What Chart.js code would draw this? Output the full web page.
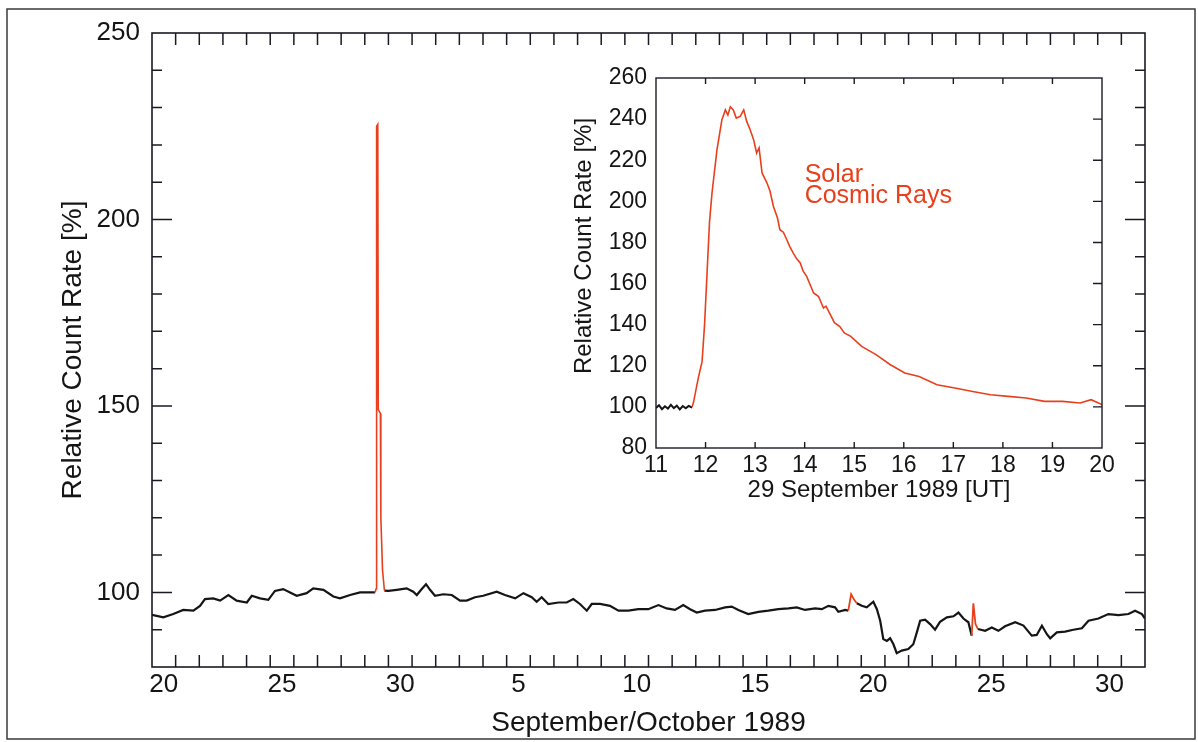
<!DOCTYPE html>
<html>
<head>
<meta charset="utf-8">
<script src="https://cdn.jsdelivr.net/npm/chart.js@4.4.0/dist/chart.umd.min.js"></script>
<style>
  html, body { margin: 0; padding: 0; background: #ffffff; }
  #wrap { position: relative; width: 1198px; height: 742px; overflow: hidden; }
  #mainChart { position: absolute; left: 0; top: 0; }
  #insetChart { position: absolute; left: 540px; top: 50px; }
</style>
</head>
<body>
<div id="wrap">
  <canvas id="mainChart" width="1198" height="742"></canvas>
  <canvas id="insetChart" width="600" height="480"></canvas>
</div>
<script>
// Main panel: x = day number (Sep 20 = 20 ... Oct 30 = 60), labels at noon
const mainTickDays = [20, 25, 30, 35, 40, 45, 50, 55, 60];
const mainTickLabels = ['20', '25', '30', '5', '10', '15', '20', '25', '30'];
const mainRateTicks = [100, 150, 200, 250];

// Neutron monitor relative count rate (black), null = gap under red events
const mainDays = [19.5, 19.98, 20.40, 20.82, 21.25, 21.53, 21.74, 22.09, 22.38, 22.73,
  23.08, 23.51, 23.72, 24.07, 24.42, 24.70, 25.05, 25.34, 25.62, 26.04,
  26.32, 26.75, 27.17, 27.45, 27.88, 28.30, 28.72, 28.93, 29.1, 29.33,
  29.50, 29.85, 30.27, 30.55, 30.70, 30.91, 31.09, 31.26, 31.47, 31.82,
  32.18, 32.53, 32.81, 33.16, 33.51, 34.08, 34.43, 34.86, 35.21, 35.56,
  35.77, 35.98, 36.26, 36.69, 37.04, 37.32, 37.60, 37.89, 38.10, 38.45,
  38.87, 39.23, 39.65, 40.07, 40.49, 40.92, 41.27, 41.62, 41.97, 42.26,
  42.54, 42.89, 43.32, 43.74, 44.02, 44.30, 44.72, 45.15, 45.57, 45.99,
  46.42, 46.77, 47.12, 47.55, 47.83, 48.11, 48.39, 48.53, 48.82, 48.95,
  49.1, 49.31, 49.52, 49.73, 50.01, 50.16, 50.30, 50.43, 50.58, 50.72,
  50.86, 51.00, 51.21, 51.49, 51.70, 51.85, 51.99, 52.20, 52.41, 52.62,
  52.83, 53.12, 53.40, 53.61, 53.82, 54.03, 54.17, 54.3, 54.43, 54.74,
  55.02, 55.30, 55.58, 56.01, 56.36, 56.71, 56.92, 57.14, 57.35, 57.49,
  57.77, 58.12, 58.47, 58.83, 59.11, 59.53, 59.95, 60.38, 60.80, 61.08,
  61.37, 61.5];
const mainRates = [94.0, 93.3, 94.2, 95.3, 95.1, 96.4, 98.2, 98.4, 97.8, 99.3,
  97.8, 97.3, 99.1, 98.4, 98.0, 100.4, 100.9, 100.0, 99.1, 99.8,
  101.1, 100.7, 98.9, 98.4, 99.3, 100.0, 100.0, 100.0, null, 100.5,
  100.4, 100.7, 101.1, 100.2, 99.3, 100.9, 102.2, 100.7, 99.1, 99.5,
  99.3, 97.8, 97.8, 98.7, 99.1, 100.2, 99.3, 98.4, 99.8, 98.7,
  97.5, 98.7, 96.9, 97.3, 97.3, 98.2, 96.9, 95.1, 96.9, 96.9,
  96.4, 95.1, 95.1, 95.5, 95.5, 96.6, 95.7, 95.3, 96.6, 95.5,
  94.6, 95.1, 95.3, 96.0, 96.2, 95.3, 94.2, 94.8, 95.1, 95.5,
  95.7, 96.0, 95.3, 95.7, 95.5, 96.4, 96.0, 94.8, 95.3, 95.1,
  null, 97.1, 96.4, 96.0, 97.5, 95.5, 92.4, 87.5, 87.0, 87.7,
  86.1, 83.7, 84.4, 84.8, 86.1, 89.3, 92.4, 92.7, 91.5, 90.0,
  92.1, 93.3, 93.6, 94.6, 93.0, 92.0, 88.4, null, 90.2, 89.7,
  90.6, 89.7, 90.9, 92.0, 91.1, 88.4, 88.6, 91.1, 88.8, 87.7,
  89.3, 89.5, 90.0, 90.4, 92.4, 93.0, 94.2, 93.9, 94.2, 95.1,
  94.2, 93.0];

// Solar cosmic ray events (red)
const gle29SepDays = [28.93, 28.98, 29.0, 29.05, 29.07, 29.16, 29.18, 29.25, 29.33];
const gle29SepRates = [100.0, 101.0, 225.0, 225.5, 149.0, 148.0, 120.0, 106.0, 100.5];
const gle19OctDays = [48.95, 49.07, 49.2, 49.31];
const gle19OctRates = [95.1, 99.5, 98.0, 97.1];
const gle24OctDays = [54.17, 54.24, 54.33, 54.43];
const gle24OctRates = [88.4, 97.1, 91.5, 90.2];

// Inset: 29 September 1989, hours UT
const insetHourTicks = [11, 12, 13, 14, 15, 16, 17, 18, 19, 20];
const insetRateTicks = [80, 100, 120, 140, 160, 180, 200, 220, 240, 260];
const insetQuietHours = [11.0, 11.06, 11.12, 11.18, 11.24, 11.30, 11.36, 11.42, 11.48, 11.54, 11.60, 11.66, 11.73];
const insetQuietRates = [99.5, 100.8, 98.9, 100.3, 99.2, 101.0, 99.4, 100.6, 98.8, 100.4, 99.3, 100.5, 99.6];
const insetEventHours = [11.73, 11.76, 11.82, 11.86, 11.93, 11.98, 12.03, 12.08, 12.13, 12.23,
  12.33, 12.40, 12.45, 12.50, 12.56, 12.62, 12.70, 12.77, 12.83, 12.90,
  12.97, 13.03, 13.08, 13.14, 13.24, 13.30, 13.37, 13.45, 13.50, 13.57,
  13.64, 13.70, 13.77, 13.84, 13.91, 13.97, 14.04, 14.10, 14.18, 14.28,
  14.38, 14.43, 14.50, 14.60, 14.71, 14.80, 14.93, 15.15, 15.44, 15.73,
  16.02, 16.31, 16.67, 17.03, 17.39, 17.75, 18.11, 18.47, 18.84, 19.20,
  19.56, 19.78, 20.0];
const insetEventRates = [100.0, 102.6, 110.0, 114.8, 122.0, 140.0, 165.0, 190.0, 204.0, 225.0,
  239.7, 244.5, 242.0, 246.0, 244.5, 240.5, 241.3, 244.5, 238.9, 234.8,
  230.0, 223.5, 226.0, 213.8, 208.9, 205.0, 197.5, 192.0, 186.2, 185.0,
  181.3, 178.0, 174.8, 172.0, 170.0, 166.0, 163.5, 160.0, 155.4, 153.7,
  148.1, 149.0, 145.7, 141.0, 139.1, 136.0, 134.3, 129.4, 125.4, 120.5,
  116.5, 114.8, 110.8, 109.2, 107.5, 105.9, 105.1, 104.3, 102.7, 102.7,
  101.9, 103.5, 101.1];

const RED = '#e8401c';
const INK = '#151515';
const FONT = "'Liberation Sans', Arial, Helvetica, sans-serif";
Chart.defaults.font.family = FONT;
Chart.defaults.color = INK;

function pairs(xs, ys) {
    return xs.map((x, i) => ({ x: x, y: ys[i] }));
}

// Inside tick marks, plot frame and the outer figure border
const mainFrame = {
    id: 'mainFrame',
    afterDraw(chart) {
        const ctx = chart.ctx;
        const a = chart.chartArea;
        const xs = chart.scales.x;
        const ys = chart.scales.y;
        ctx.save();
        ctx.strokeStyle = '#1a1a24';
        ctx.lineWidth = 1.5;
        ctx.beginPath();
        for (let n = 20; n <= 60; n++) {
            const px = xs.getPixelForValue(n + 0.5);
            ctx.moveTo(px, a.bottom);
            ctx.lineTo(px, a.bottom - 12);
            ctx.moveTo(px, a.top);
            ctx.lineTo(px, a.top + 12);
        }
        for (let v = 90; v <= 240; v += 10) {
            const py = ys.getPixelForValue(v);
            const len = v % 50 === 0 ? 20 : 10;
            ctx.moveTo(a.left, py);
            ctx.lineTo(a.left + len, py);
            ctx.moveTo(a.right, py);
            ctx.lineTo(a.right - len, py);
        }
        ctx.stroke();
        ctx.lineWidth = 1.6;
        ctx.strokeRect(a.left, a.top, a.right - a.left, a.bottom - a.top);
        ctx.strokeStyle = '#3a3a3a';
        ctx.lineWidth = 1.5;
        ctx.strokeRect(7, 9, 1188, 730);
        ctx.restore();
    }
};

const insetFrame = {
    id: 'insetFrame',
    afterDraw(chart) {
        const ctx = chart.ctx;
        const a = chart.chartArea;
        const xs = chart.scales.x;
        const ys = chart.scales.y;
        ctx.save();
        ctx.strokeStyle = '#1a1a24';
        ctx.lineWidth = 1.4;
        ctx.beginPath();
        for (let h = 12; h <= 19; h++) {
            const px = xs.getPixelForValue(h);
            ctx.moveTo(px, a.bottom);
            ctx.lineTo(px, a.bottom - 6);
            ctx.moveTo(px, a.top);
            ctx.lineTo(px, a.top + 6);
        }
        for (let v = 100; v <= 240; v += 20) {
            const py = ys.getPixelForValue(v);
            ctx.moveTo(a.right, py);
            ctx.lineTo(a.right - 9, py);
        }
        ctx.stroke();
        ctx.strokeRect(a.left, a.top, a.right - a.left, a.bottom - a.top);

        // rotated axis title, sits a little above the axis centre
        ctx.fillStyle = INK;
        ctx.font = '24px ' + FONT;
        ctx.textAlign = 'center';
        ctx.textBaseline = 'middle';
        ctx.translate(44, 196);
        ctx.rotate(-Math.PI / 2);
        ctx.fillText('Relative Count Rate [%]', 0, 0);
        ctx.restore();

        ctx.save();
        ctx.fillStyle = RED;
        ctx.font = '25px ' + FONT;
        ctx.textAlign = 'left';
        ctx.textBaseline = 'alphabetic';
        const tx = xs.getPixelForValue(14.0);
        ctx.fillText('Solar', tx, ys.getPixelForValue(209.5));
        ctx.fillText('Cosmic Rays', tx, ys.getPixelForValue(199.3));
        ctx.restore();
    }
};

function initializeCharts() {
    new Chart(document.getElementById('mainChart').getContext('2d'), {
        type: 'line',
        data: {
            datasets: [
                { data: pairs(gle29SepDays, gle29SepRates), borderColor: RED, borderWidth: 1.6, order: 0 },
                { data: pairs(gle19OctDays, gle19OctRates), borderColor: RED, borderWidth: 1.8, order: 0 },
                { data: pairs(gle24OctDays, gle24OctRates), borderColor: RED, borderWidth: 1.8, order: 0 },
                { data: pairs(mainDays, mainRates), borderColor: INK, borderWidth: 2.2, order: 1, spanGaps: false }
            ]
        },
        options: {
            responsive: false,
            animation: false,
            devicePixelRatio: 1,
            layout: { padding: { top: 33, right: 53, left: 0, bottom: 0 } },
            elements: { point: { radius: 0 }, line: { tension: 0 } },
            plugins: { legend: { display: false }, tooltip: { enabled: false } },
            scales: {
                x: {
                    type: 'linear',
                    min: 19.5,
                    max: 61.5,
                    afterBuildTicks: s => { s.ticks = mainTickDays.map(v => ({ value: v })); },
                    afterFit: s => { s.height = 75; },
                    grid: { display: false, drawTicks: false },
                    border: { display: false },
                    ticks: {
                        autoSkip: false,
                        maxRotation: 0,
                        padding: 2,
                        color: INK,
                        font: { size: 26 },
                        callback: (value, index) => mainTickLabels[index]
                    },
                    title: {
                        display: true,
                        text: 'September/October 1989',
                        color: INK,
                        font: { size: 28 },
                        padding: { top: 0, bottom: 2 }
                    }
                },
                y: {
                    min: 80,
                    max: 250,
                    afterBuildTicks: s => { s.ticks = mainRateTicks.map(v => ({ value: v })); },
                    afterFit: s => { s.width = 152; },
                    grid: { display: false, drawTicks: false },
                    border: { display: false },
                    ticks: { padding: 12, color: INK, font: { size: 26 } },
                    title: {
                        display: true,
                        text: 'Relative Count Rate [%]',
                        color: INK,
                        font: { size: 28 },
                        padding: { top: 56, bottom: 0 }
                    }
                }
            }
        },
        plugins: [mainFrame]
    });

    new Chart(document.getElementById('insetChart').getContext('2d'), {
        type: 'line',
        data: {
            datasets: [
                { data: pairs(insetEventHours, insetEventRates), borderColor: RED, borderWidth: 1.6, order: 0 },
                { data: pairs(insetQuietHours, insetQuietRates), borderColor: INK, borderWidth: 2, order: 1 }
            ]
        },
        options: {
            responsive: false,
            animation: false,
            devicePixelRatio: 1,
            layout: { padding: { top: 28, right: 38, left: 0, bottom: 0 } },
            elements: { point: { radius: 0 }, line: { tension: 0 } },
            plugins: { legend: { display: false }, tooltip: { enabled: false } },
            scales: {
                x: {
                    type: 'linear',
                    min: 11,
                    max: 20,
                    afterBuildTicks: s => { s.ticks = insetHourTicks.map(v => ({ value: v })); },
                    afterFit: s => { s.height = 82; },
                    grid: { display: false, drawTicks: false },
                    border: { display: false },
                    ticks: { autoSkip: false, maxRotation: 0, padding: 4, color: INK, font: { size: 23 } },
                    title: {
                        display: true,
                        text: '29 September 1989 [UT]',
                        color: INK,
                        font: { size: 24 },
                        padding: { top: 0, bottom: 25 }
                    }
                },
                y: {
                    min: 80,
                    max: 260,
                    afterBuildTicks: s => { s.ticks = insetRateTicks.map(v => ({ value: v })); },
                    afterFit: s => { s.width = 116; },
                    grid: { display: false, drawTicks: false },
                    border: { display: false },
                    ticks: { padding: 9, color: INK, font: { size: 23 } }
                }
            }
        },
        plugins: [insetFrame]
    });
}

document.addEventListener('DOMContentLoaded', () => {
    initializeCharts();
});
</script>
</body>
</html>
